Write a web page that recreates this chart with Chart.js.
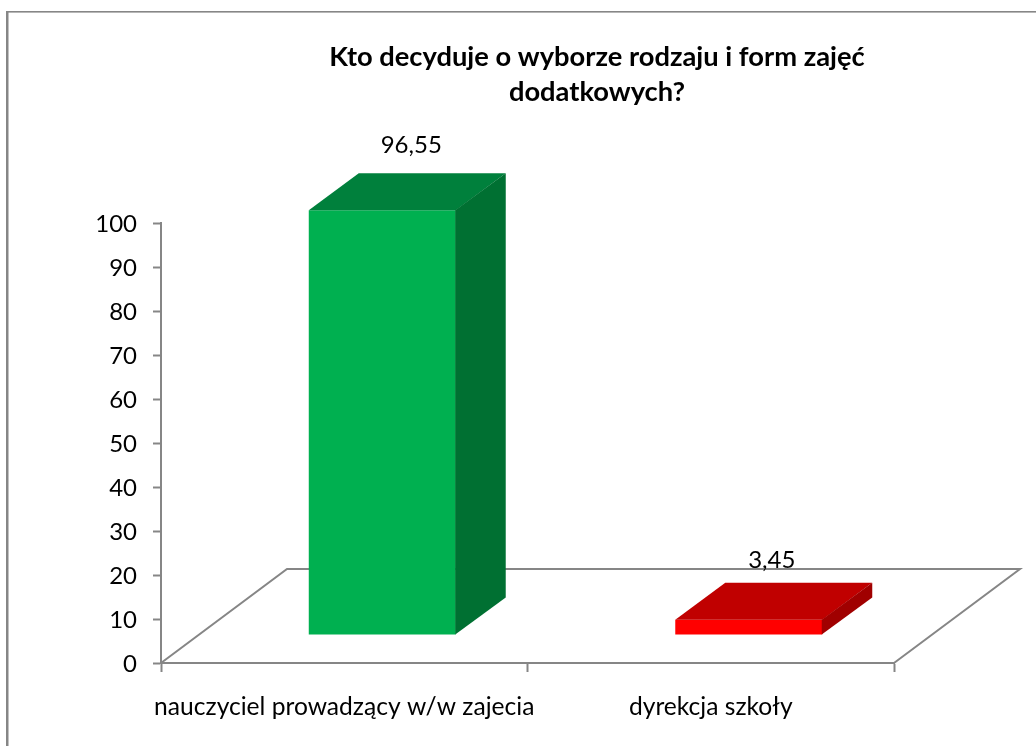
<!DOCTYPE html>
<html>
<head>
<meta charset="utf-8">
<style>html,body{margin:0;padding:0;background:#fff}canvas{display:block}</style>
<script src="https://cdn.jsdelivr.net/npm/chart.js@4"></script>
</head>
<body>
<canvas id="c" width="1036" height="746"></canvas>
<script>
const categories = ["nauczyciel prowadzący w/w zajecia", "dyrekcja szkoły"];
const values = [96.55, 3.45];
const valueLabels = ["96,55", "3,45"];
const titleLines = ["Kto decyduje o wyborze rodzaju i form zajęć", "dodatkowych?"];
const yTicks = { min: 0, max: 100, step: 10 };

const frontColors = ["#00B050", "#FF0000"];
const topColors = ["#00803C", "#C00000"];
const sideColors = ["#007032", "#A00000"];
const labelOffsets = [[67, -92.5], [61, -87.5]];
const FONT = "Lato, Carlito, sans-serif";
const AXIS = "#868686";
const barShift = [38, -28];
const barDepth = [50, -37];
const floorDepth = [126, -94];

const scene = {
  id: "scene",
  beforeDraw(chart) {
    const c = chart.ctx;
    c.save();
    c.fillStyle = "#fff";
    c.fillRect(0, 0, chart.width, chart.height);
    c.fillStyle = AXIS;
    c.fillRect(6, 11, 2.5, chart.height - 11);
    c.fillRect(6, 11, chart.width - 6, 1.6);
    c.restore();
  },
  afterLayout(chart) {
    const t = chart.titleBlock;
    t.left = 597 - 400;
    t.right = 597 + 400;
  },
  beforeDatasetsDraw(chart) {
    const c = chart.ctx, x = chart.scales.x, y = chart.scales.y;
    const b = y.getPixelForValue(0);
    c.save();
    c.strokeStyle = AXIS;
    c.lineWidth = 2;
    c.beginPath();
    c.moveTo(x.left, b);
    c.lineTo(x.left + floorDepth[0], b + floorDepth[1]);
    c.lineTo(x.right + floorDepth[0], b + floorDepth[1]);
    c.lineTo(x.right, b);
    c.stroke();
    c.restore();
  },
  beforeDatasetDraw(chart) {
    chart.ctx.save();
    chart.ctx.translate(barShift[0], barShift[1]);
  },
  afterDatasetDraw(chart, args) {
    const c = chart.ctx;
    c.restore();
    const meta = chart.getDatasetMeta(args.index);
    meta.data.forEach((bar, i) => {
      const l = bar.x - bar.width / 2 + barShift[0];
      const r = bar.x + bar.width / 2 + barShift[0];
      const t = bar.y + barShift[1];
      const bt = bar.base + barShift[1];
      const [dx, dy] = barDepth;
      c.fillStyle = topColors[i];
      c.beginPath();
      c.moveTo(l, t); c.lineTo(l + dx, t + dy); c.lineTo(r + dx, t + dy); c.lineTo(r, t);
      c.closePath(); c.fill();
      c.fillStyle = sideColors[i];
      c.beginPath();
      c.moveTo(r - 0.5, t); c.lineTo(r + dx, t + dy); c.lineTo(r + dx, bt + dy); c.lineTo(r - 0.5, bt);
      c.closePath(); c.fill();
      c.save();
      c.fillStyle = "#000";
      c.font = "24px " + FONT;
      c.textAlign = "center";
      c.textBaseline = "middle";
      c.fillText(valueLabels[i], bar.x + labelOffsets[i][0], bar.y + labelOffsets[i][1]);
      c.restore();
    });
  }
};

new Chart(document.getElementById("c"), {
  type: "bar",
  data: {
    labels: categories,
    datasets: [{
      data: values,
      backgroundColor: frontColors,
      borderWidth: 0,
      barPercentage: 0.401,
      categoryPercentage: 1
    }]
  },
  plugins: [scene],
  options: {
    responsive: false,
    animation: false,
    layout: { padding: { left: 0, top: 0, bottom: 0, right: 142 } },
    plugins: {
      legend: { display: false },
      tooltip: { enabled: false },
      title: {
        display: true,
        text: titleLines,
        color: "#000",
        font: { family: FONT, size: 27.3, weight: "bold", lineHeight: 34.5 / 27.3 },
        padding: { top: 40, bottom: 114 }
      }
    },
    scales: {
      x: {
        afterFit(s) { s.height = 83; },
        border: { color: AXIS, width: 2 },
        grid: { drawOnChartArea: false, tickLength: 9, tickColor: AXIS, tickWidth: 2, offset: true },
        ticks: { color: "#000", padding: 20, maxRotation: 0, autoSkip: false, font: { family: FONT, size: 24.6 } }
      },
      y: {
        min: yTicks.min,
        max: yTicks.max,
        afterFit(s) { s.width = 161; },
        border: { color: AXIS, width: 2 },
        grid: { drawOnChartArea: false, tickLength: 8, tickColor: AXIS, tickWidth: 2 },
        ticks: { color: "#000", padding: 16, stepSize: yTicks.step, labelOffset: 1.5, font: { family: FONT, size: 24 } }
      }
    }
  }
});
</script>
</body>
</html>
